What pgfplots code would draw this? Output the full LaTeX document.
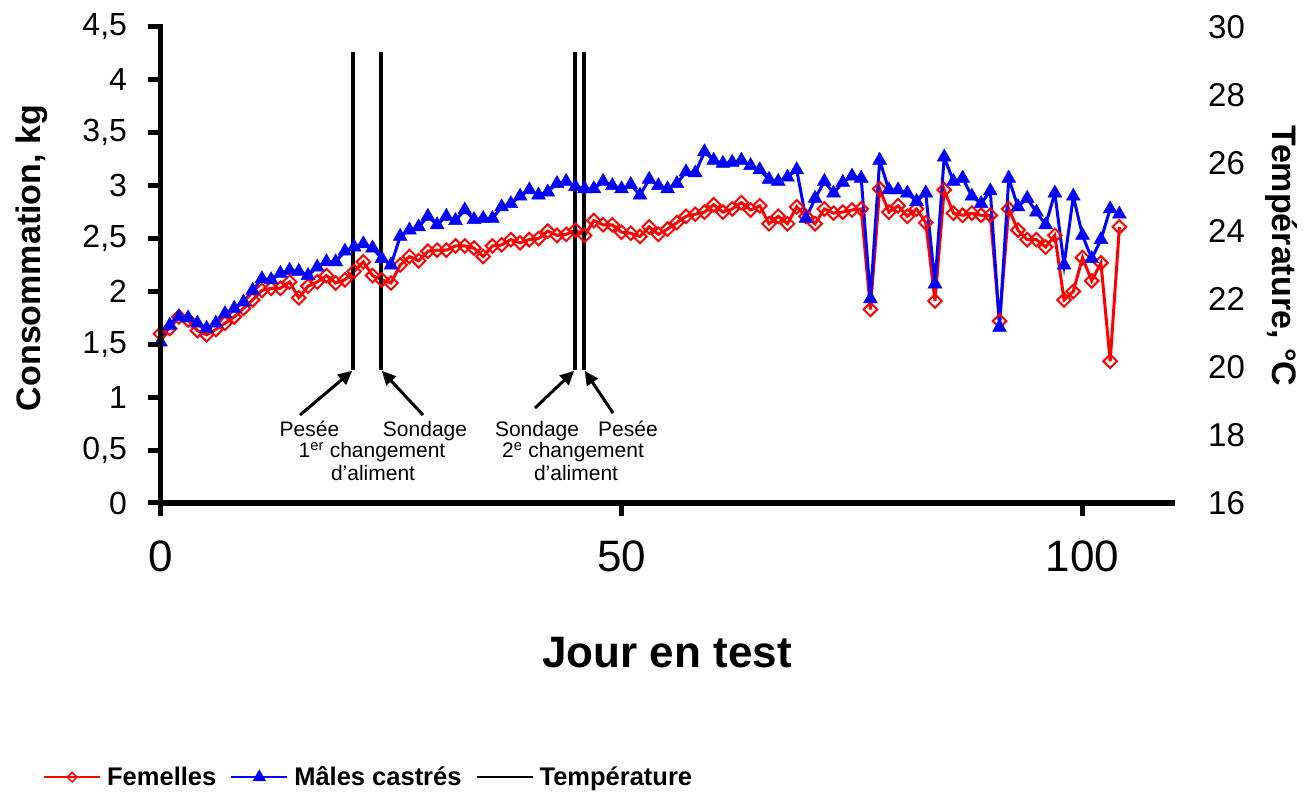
\documentclass[border=0pt]{standalone}
\usepackage{pgfplots}
\pgfplotsset{compat=1.18}
\usepackage{fontspec}
\setmainfont{Liberation Sans}
\usetikzlibrary{arrows.meta}
\newcommand{\fs}[1]{\fontsize{#1}{#1}\selectfont}

\pgfplotstableread{
x y
0 1.60
1 1.65
2 1.76
3 1.73
4 1.63
5 1.59
6 1.64
7 1.70
8 1.76
9 1.84
10 1.92
11 2.01
12 2.03
13 2.03
14 2.09
15 1.94
16 2.05
17 2.09
18 2.15
19 2.08
20 2.11
21 2.19
22 2.28
23 2.15
24 2.11
25 2.08
26 2.25
27 2.33
28 2.29
29 2.38
30 2.39
31 2.39
32 2.43
33 2.43
34 2.41
35 2.33
36 2.43
37 2.44
38 2.49
39 2.46
40 2.49
41 2.50
42 2.57
43 2.53
44 2.54
45 2.58
46 2.53
47 2.67
48 2.63
49 2.63
50 2.56
51 2.55
52 2.52
53 2.61
54 2.54
55 2.59
56 2.65
57 2.71
58 2.73
59 2.75
60 2.82
61 2.75
62 2.78
63 2.84
64 2.77
65 2.81
66 2.64
67 2.71
68 2.64
69 2.80
70 2.71
71 2.64
72 2.78
73 2.74
74 2.75
75 2.77
76 2.78
77 1.83
78 2.97
79 2.75
80 2.81
81 2.71
82 2.78
83 2.65
84 1.91
85 2.96
86 2.74
87 2.72
88 2.74
89 2.72
90 2.72
91 1.72
92 2.78
93 2.58
94 2.49
95 2.49
96 2.42
97 2.53
98 1.92
99 2.00
100 2.32
101 2.10
102 2.27
103 1.34
104 2.61
}\femelles

\pgfplotstableread{
x y
0 1.52
1 1.68
2 1.76
3 1.75
4 1.70
5 1.65
6 1.70
7 1.79
8 1.84
9 1.90
10 2.01
11 2.12
12 2.11
13 2.17
14 2.20
15 2.19
16 2.15
17 2.23
18 2.28
19 2.28
20 2.38
21 2.42
22 2.45
23 2.41
24 2.31
25 2.25
26 2.52
27 2.58
28 2.61
29 2.71
30 2.63
31 2.71
32 2.67
33 2.77
34 2.68
35 2.69
36 2.69
37 2.80
38 2.83
39 2.90
40 2.96
41 2.91
42 2.94
43 3.02
44 3.04
45 2.99
46 2.97
47 2.97
48 3.04
49 3.00
50 2.97
51 3.01
52 2.91
53 3.06
54 3.00
55 2.97
56 3.02
57 3.13
58 3.12
59 3.32
60 3.24
61 3.21
62 3.22
63 3.24
64 3.19
65 3.15
66 3.06
67 3.04
68 3.08
69 3.15
70 2.69
71 2.88
72 3.04
73 2.93
74 3.03
75 3.09
76 3.07
77 1.93
78 3.24
79 2.96
80 2.96
81 2.93
82 2.85
83 2.93
84 2.07
85 3.27
86 3.04
87 3.07
88 2.90
89 2.83
90 2.95
91 1.66
92 3.07
93 2.80
94 2.88
95 2.75
96 2.63
97 2.93
98 2.25
99 2.90
100 2.53
101 2.31
102 2.49
103 2.78
104 2.73
}\males

\begin{document}
\begin{tikzpicture}[x=1pt,y=1pt]
\useasboundingbox (0,0) rectangle (1309,793);
\begin{axis}[
  at={(160.5pt,290pt)}, anchor=south west,
  scale only axis, width=1014.2pt, height=476pt,
  xmin=0, xmax=110, ymin=0, ymax=4.5,
  clip=false,
  axis x line*=bottom, axis y line*=left,
  axis line style={-, line width=5pt, black},
  xtick={0,50,100},
  ytick={0,0.5,1,1.5,2,2.5,3,3.5,4,4.5},
  tick align=outside, major tick length=13pt,
  /pgf/number format/assume math mode=true,
  xticklabel style={font=\fs{44}, yshift=-21pt},
  yticklabel style={font=\fs{32}, xshift=-17pt, /pgf/number format/.cd, use comma, fixed, precision=1},
  xlabel={\textbf{Jour en test}},
  xlabel style={font=\fs{44}, at={(axis description cs:0.4994,-0.3466)}, anchor=base},
  ylabel={\textbf{Consommation, kg}},
  ylabel style={font=\fs{34}, at={(axis description cs:-0.1188,0.5147)}, anchor=base},
  legend style={at={(axis description cs:-0.1159,-0.576)}, anchor=west, draw=none, fill=none,
    inner sep=0pt, nodes={inner sep=0pt},
    font=\bfseries\fs{25.5}, legend columns=3,
    /tikz/every odd column/.append style={column sep=6pt},
    /tikz/every even column/.append style={column sep=14pt}},
  legend image code/.code={\draw[mark repeat=2,mark phase=2,#1] plot coordinates {(0pt,0pt) (28pt,0pt) (56pt,0pt)};},
]
\addplot[forget plot, red, line width=3pt, mark=square, mark size=4.8pt,
  mark options={rotate=45, fill=white, line width=2pt, solid}] table[x=x,y=y] {\femelles};
\addplot[forget plot, blue, line width=3pt, mark=triangle*, mark size=8pt,
  mark options={solid, line width=0.5pt}] table[x=x,y=y] {\males};

\addlegendimage{red, line width=2pt, mark=square, mark size=3.4pt, mark options={rotate=45, fill=white, line width=1.5pt}}
\addlegendentry{Femelles}
\addlegendimage{blue, line width=2pt, mark=triangle*, mark size=5.8pt}
\addlegendentry{Mâles castrés}
\addlegendimage{black, line width=2pt}
\addlegendentry{Température}

% event lines
\draw[line width=3.3pt] (axis cs:20.88,1.257) -- (axis cs:20.88,4.263);
\draw[line width=3.3pt] (axis cs:23.92,1.257) -- (axis cs:23.92,4.263);
\draw[line width=3.3pt] (axis cs:44.95,1.257) -- (axis cs:44.95,4.263);
\draw[line width=3.3pt] (axis cs:45.93,1.257) -- (axis cs:45.93,4.263);
% arrows
\draw[line width=3pt, -{Triangle[length=14pt,width=13pt]}] (axis cs:15.13,0.832) -- (axis cs:20.80,1.250);
\draw[line width=3pt, -{Triangle[length=14pt,width=13pt]}] (axis cs:28.47,0.832) -- (axis cs:24.00,1.250);
\draw[line width=3pt, -{Triangle[length=14pt,width=13pt]}] (axis cs:40.62,0.898) -- (axis cs:44.87,1.250);
\draw[line width=3pt, -{Triangle[length=14pt,width=13pt]}] (axis cs:49.08,0.851) -- (axis cs:46.01,1.250);
% annotation text
\node[font=\fs{21}, anchor=base] at (axis cs:16.16,0.633) {Pesée};
\node[font=\fs{21}, anchor=base] at (axis cs:28.69,0.633) {Sondage};
\node[font=\fs{21}, anchor=base] at (axis cs:22.94,0.428) {1\textsuperscript{er} changement};
\node[font=\fs{21}, anchor=base] at (axis cs:23.05,0.217) {d'aliment};
\node[font=\fs{21}, anchor=base] at (axis cs:40.84,0.633) {Sondage};
\node[font=\fs{21}, anchor=base] at (axis cs:50.70,0.633) {Pesée};
\node[font=\fs{21}, anchor=base] at (axis cs:44.74,0.428) {2\textsuperscript{e} changement};
\node[font=\fs{21}, anchor=base] at (axis cs:45.07,0.217) {d'aliment};
\end{axis}

\begin{axis}[
  at={(160.5pt,290pt)}, anchor=south west,
  scale only axis, width=1014.2pt, height=476pt,
  xmin=0, xmax=110, ymin=16, ymax=30,
  hide x axis,
  axis y line*=right,
  y axis line style={draw=none},
  ytick={16,18,20,22,24,26,28,30},
  major tick length=0pt,
  /pgf/number format/assume math mode=true,
  yticklabel style={font=\fs{33}, anchor=west, xshift=30pt},
  ylabel={\textbf{Température, °C}},
  ylabel style={font=\fs{34}, at={(axis description cs:1.0964,0.5189)}, anchor=base, rotate=180},
]
\addplot[draw=none, forget plot] coordinates {(0,16)};
\end{axis}
% heavy axis frame (x axis, left y axis) and tick marks
\draw[line width=5pt, black] (158,290) -- (1174.7,290);
\draw[line width=5pt, black] (160.5,287.5) -- (160.5,768.5);
\foreach \tx in {160.5,621.5,1082.5} {\draw[line width=5pt, black] (\tx,290) -- (\tx,277);}
\foreach \ty in {290,342.89,395.78,448.67,501.56,554.45,607.34,660.23,713.12,766} {\draw[line width=5pt, black] (160.5,\ty) -- (147.5,\ty);}
\end{tikzpicture}
\end{document}
